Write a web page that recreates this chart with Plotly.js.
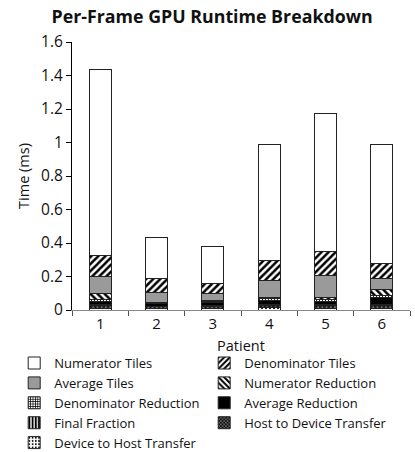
<!DOCTYPE html>
<html>
<head>
<meta charset="utf-8">
<script src="https://cdn.plot.ly/plotly-3.0.1.min.js"></script>
<style>html,body{margin:0;padding:0;background:#fff;}#chart{width:415px;height:452px;}</style>
</head>
<body>
<div id="chart"></div>
<script>
const patients = ['1', '2', '3', '4', '5', '6'];
const numeratorTiles       = [1.113, 0.249, 0.221, 0.695, 0.825, 0.715];
const denominatorTiles     = [0.124, 0.081, 0.060, 0.119, 0.145, 0.085];
const averageTiles         = [0.100, 0.059, 0.044, 0.100, 0.129, 0.070];
const numeratorReduction   = [0.035, 0.004, 0.006, 0.010, 0.012, 0.034];
const denominatorReduction = [0.012, 0.006, 0.008, 0.012, 0.012, 0.014];
const averageReduction     = [0.020, 0.014, 0.016, 0.020, 0.020, 0.040];
const finalFraction        = [0.006, 0.004, 0.004, 0.006, 0.006, 0.006];
const hostToDevice         = [0.016, 0.010, 0.012, 0.016, 0.016, 0.016];
const deviceToHost         = [0.010, 0.008, 0.010, 0.012, 0.010, 0.010];

const line = {color: '#222', width: 1};
function tr(name, y, color, pattern) {
  const m = {color: color, line: line};
  if (pattern) m.pattern = pattern;
  return {type: 'bar', name: name, x: patients, y: y, marker: m, width: 0.39};
}
// bottom to top
const traces = [
  tr('Device to Host Transfer', deviceToHost, 'white', {shape: '.', fgcolor: 'black', bgcolor: 'white', size: 4, solidity: 0.25}),
  tr('Host to Device Transfer', hostToDevice, '#555', {shape: 'x', fgcolor: 'black', bgcolor: '#888', size: 3, solidity: 0.6}),
  tr('Final Fraction', finalFraction, 'black', {shape: '|', fgcolor: 'black', bgcolor: 'white', size: 4, solidity: 0.6}),
  tr('Average Reduction', averageReduction, 'black', null),
  tr('Denominator Reduction', denominatorReduction, 'white', {shape: '+', fgcolor: 'black', bgcolor: 'white', size: 3, solidity: 0.5}),
  tr('Numerator Reduction', numeratorReduction, 'white', {shape: '\\', fgcolor: 'black', bgcolor: 'white', size: 5, solidity: 0.5}),
  tr('Average Tiles', averageTiles, '#9a9a9a', null),
  tr('Denominator Tiles', denominatorTiles, 'white', {shape: '/', fgcolor: 'black', bgcolor: 'white', size: 5, solidity: 0.5}),
  tr('Numerator Tiles', numeratorTiles, 'white', null)
];

const layout = {
  width: 415, height: 452,
  margin: {l: 72, r: 5, t: 42, b: 142, autoexpand: false},
  barmode: 'stack',
  paper_bgcolor: 'white', plot_bgcolor: 'white',
  font: {family: 'Open Sans, Noto Sans, sans-serif', size: 14, color: '#111'},
  title: {text: '<b>Per-Frame GPU Runtime Breakdown</b>', xref: 'container', x: 0.511, xanchor: 'center', y: 0.962, yanchor: 'middle', font: {size: 17.8, color: '#111'}},
  xaxis: {
    type: 'category',
    title: {text: 'Patient', font: {size: 14.5}, standoff: 8},
    showline: true, linecolor: '#888', linewidth: 1,
    ticks: 'outside', tickson: 'boundaries', ticklen: 5, tickcolor: '#555',
    showgrid: false, zeroline: false, tickfont: {size: 15}
  },
  yaxis: {
    title: {text: 'Time (ms)', font: {size: 14.5}, standoff: 8},
    range: [0, 1.6], dtick: 0.2, tickformat: '~g',
    showline: true, linecolor: 'black', linewidth: 1,
    ticks: 'outside', ticklen: 5, tickcolor: 'black',
    showgrid: false, zeroline: false, tickfont: {size: 15.5}
  },
  showlegend: true,
  legend: {
    orientation: 'h', traceorder: 'reversed',
    xref: 'paper', yref: 'paper',
    x: -0.171, xanchor: 'left', y: -0.142, yanchor: 'top',
    font: {size: 13}, entrywidth: 145, itemwidth: 30,
    tracegroupgap: 0, bgcolor: 'rgba(0,0,0,0)'
  }
};

Plotly.newPlot('chart', traces, layout, {displayModeBar: false, staticPlot: true});
</script>
</body>
</html>
